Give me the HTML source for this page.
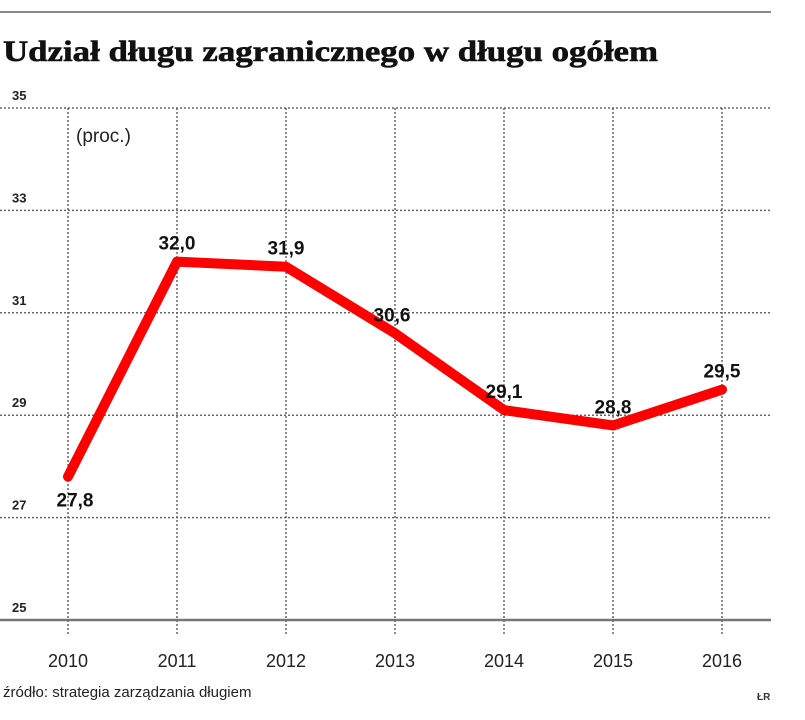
<!DOCTYPE html>
<html><head><meta charset="utf-8"><style>
body{margin:0;background:#fff;width:805px;height:720px;overflow:hidden}
svg{display:block}
</style></head><body>
<svg width="805" height="720" xmlns="http://www.w3.org/2000/svg">
<line x1="0" y1="12" x2="771" y2="12" stroke="#888" stroke-width="2"/>
<text x="3" y="61" font-family="Liberation Serif, serif" font-weight="bold" font-size="30" fill="#111" stroke="#111" stroke-width="0.6" textLength="655" lengthAdjust="spacingAndGlyphs">Udział długu zagranicznego w długu ogółem</text>
<text x="76" y="142" font-family="Liberation Sans, sans-serif" font-size="19" fill="#222">(proc.)</text>
<g id="grid"></g>
<g id="marks"></g>
<text x="3" y="697" font-family="Liberation Sans, sans-serif" font-size="15" fill="#222">źródło: strategia zarządzania długiem</text>
<text x="757" y="700" font-family="Liberation Sans, sans-serif" font-size="10" font-weight="bold" fill="#333">ŁR</text>
</svg>
<script>
const years = ["2010","2011","2012","2013","2014","2015","2016"];
const values = [27.8,32.0,31.9,30.6,29.1,28.8,29.5];
const valueLabels = ["27,8","32,0","31,9","30,6","29,1","28,8","29,5"];
const yTicks = [25,27,29,31,33,35];
const NS="http://www.w3.org/2000/svg";
const x=i=>68+i*109;
const y=v=>620-(v-25)*51.2;
const grid=document.getElementById('grid'), marks=document.getElementById('marks');
function mk(tag,attrs,parent){const e=document.createElementNS(NS,tag);for(const k in attrs)e.setAttribute(k,attrs[k]);parent.appendChild(e);return e;}
yTicks.forEach(t=>{
  const l=mk('line',{x1:0,x2:771,y1:y(t),y2:y(t),stroke:t===25?'#777':'#666','stroke-width':t===25?2.5:1.5,'stroke-dasharray':t===25?'none':'2 2'},grid);
  
  
  const tx=mk('text',{x:12,y:y(t)-8,'font-family':'Liberation Sans, sans-serif','font-size':13,'font-weight':'bold',fill:'#222'},grid);
  tx.textContent=t;
  
  
});
years.forEach((yr,i)=>{
  const l=mk('line',{x1:x(i),x2:x(i),y1:y(35),y2:635,stroke:'#666','stroke-width':1.5,'stroke-dasharray':'2 2'},grid);
  
  
  const tx=mk('text',{x:x(i),y:667,'text-anchor':'middle','font-family':'Liberation Sans, sans-serif','font-size':18,fill:'#222'},grid);
  tx.textContent=yr;
  
  
});
const p=mk('polyline',{points:values.map((v,i)=>x(i)+','+y(v)).join(' '),fill:'none',stroke:'#ff0000','stroke-width':10,'stroke-linejoin':'round','stroke-linecap':'round'},marks);


values.forEach((v,i)=>{
  const dy = i===0 ? 30 : -12;
  const t=mk('text',{x:x(i)+(i===0?7:i===3?-3:0),y:y(v)+dy,'text-anchor':'middle','font-family':'Liberation Sans, sans-serif','font-size':19,'font-weight':'bold',fill:'#111'},marks);
  t.textContent=valueLabels[i];
  
  
});
</script>
</body></html>
